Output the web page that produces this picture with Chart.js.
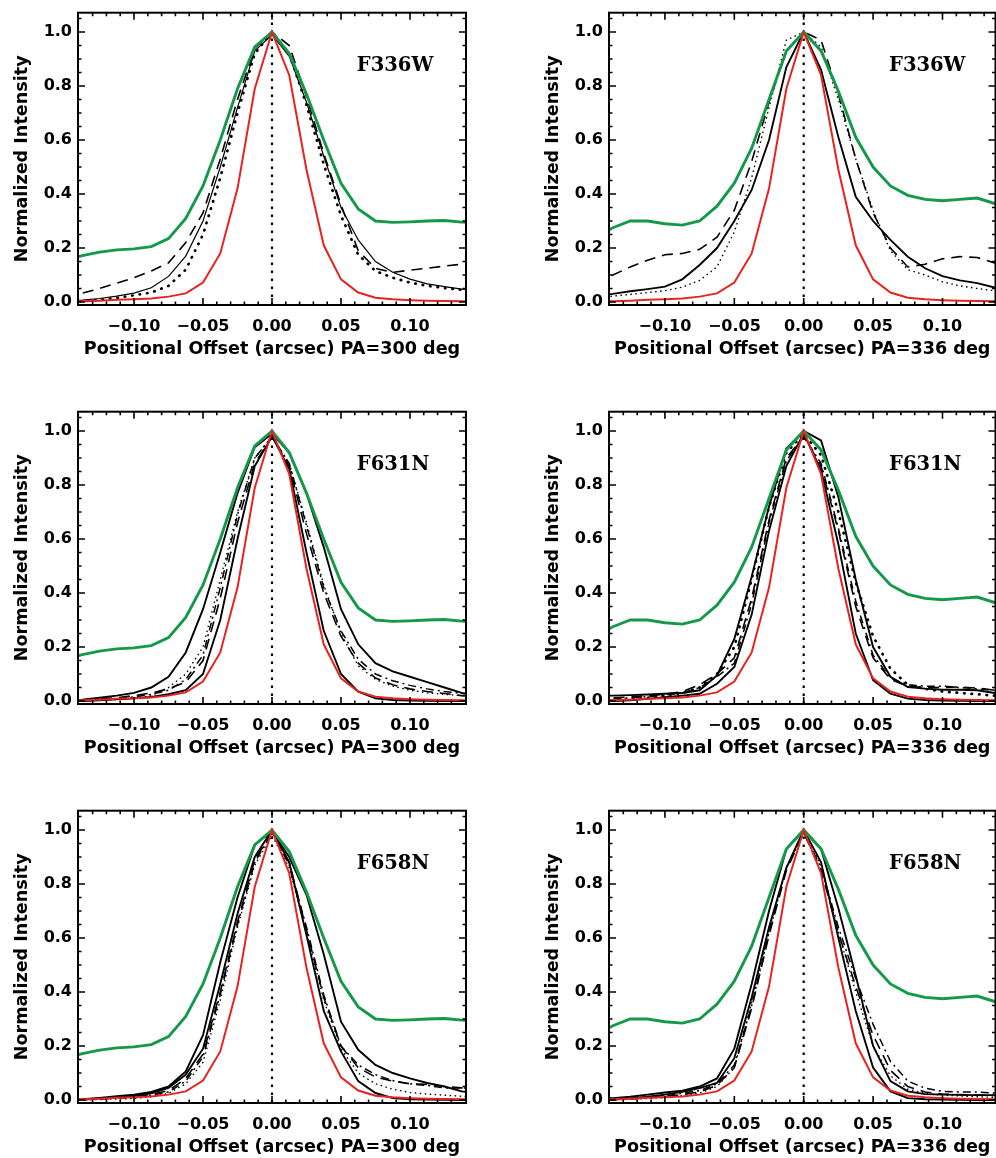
<!DOCTYPE html>
<html>
<head>
<meta charset="utf-8">
<script src="https://cdn.jsdelivr.net/npm/chart.js@4.4.1/dist/chart.umd.min.js"></script>
<style>
html, body { margin: 0; padding: 0; background: #fff; }
body { width: 996px; height: 1158px; overflow: hidden; position: relative; }
.panel { position: absolute; width: 480px; height: 360px; }
</style>
</head>
<body>
<div class="panel" style="left:0;top:0"><canvas id="p1"></canvas></div>
<div class="panel" style="left:531px;top:0"><canvas id="p2"></canvas></div>
<div class="panel" style="left:0;top:399px"><canvas id="p3"></canvas></div>
<div class="panel" style="left:531px;top:399px"><canvas id="p4"></canvas></div>
<div class="panel" style="left:0;top:798px"><canvas id="p5"></canvas></div>
<div class="panel" style="left:531px;top:798px"><canvas id="p6"></canvas></div>
<script>
// positional offsets of the profile samples (arcsec)
const offsets = [-0.15, -0.1375, -0.125, -0.1125, -0.1, -0.0875, -0.075, -0.0625, -0.05, -0.0375, -0.025, -0.0125, 0,
                 0.0125, 0.025, 0.0375, 0.05, 0.0625, 0.075, 0.0875, 0.1, 0.1125, 0.125, 0.1375, 0.15];

const xTickValues = [-0.10, -0.05, 0.00, 0.05, 0.10];
const xTickLabels = ['\u22120.10', '\u22120.05', '0.00', '0.05', '0.10'];
const yTickValues = [0.0, 0.2, 0.4, 0.6, 0.8, 1.0];
const yTickLabels = ['0.0', '0.2', '0.4', '0.6', '0.8', '1.0'];

// same in every panel of a column
const greenPa300 = [0.155, 0.172, 0.185, 0.193, 0.197, 0.205, 0.235, 0.31, 0.43, 0.60, 0.79, 0.945, 1.0, 0.92, 0.77, 0.60, 0.44, 0.345, 0.30, 0.295, 0.297, 0.30, 0.302, 0.296, 0.292];
const greenPa336 = [0.24, 0.275, 0.30, 0.30, 0.29, 0.285, 0.30, 0.355, 0.44, 0.57, 0.75, 0.93, 1.0, 0.93, 0.78, 0.61, 0.50, 0.43, 0.395, 0.38, 0.375, 0.38, 0.385, 0.365, 0.355];
const redPsf = [0.002, 0.003, 0.005, 0.008, 0.01, 0.013, 0.02, 0.032, 0.072, 0.18, 0.42, 0.79, 1.0, 0.84, 0.49, 0.21, 0.084, 0.035, 0.016, 0.01, 0.007, 0.005, 0.004, 0.003, 0.002];

// F336W
const f336w300Thin = [0.004, 0.007, 0.013, 0.022, 0.033, 0.053, 0.095, 0.17, 0.30, 0.50, 0.72, 0.93, 0.99, 0.91, 0.74, 0.54, 0.35, 0.23, 0.15, 0.11, 0.085, 0.067, 0.057, 0.048, 0.042];
const f336w300Dashed = [0.022, 0.033, 0.05, 0.07, 0.09, 0.115, 0.145, 0.22, 0.33, 0.53, 0.75, 0.94, 1.0, 0.95, 0.76, 0.55, 0.36, 0.19, 0.125, 0.11, 0.118, 0.125, 0.133, 0.14, 0.147];
const f336w300Dots = [0.0, 0.003, 0.008, 0.015, 0.025, 0.035, 0.06, 0.12, 0.25, 0.46, 0.70, 0.92, 1.0, 0.92, 0.73, 0.51, 0.32, 0.175, 0.115, 0.09, 0.072, 0.06, 0.052, 0.045, 0.04];
const f336w336Solid = [0.022, 0.03, 0.04, 0.048, 0.057, 0.084, 0.137, 0.20, 0.30, 0.415, 0.60, 0.87, 1.0, 0.86, 0.61, 0.39, 0.30, 0.23, 0.168, 0.125, 0.096, 0.08, 0.07, 0.054, 0.048];
const f336w336Dashed = [0.07, 0.10, 0.13, 0.155, 0.175, 0.18, 0.195, 0.24, 0.34, 0.52, 0.74, 0.93, 1.0, 0.97, 0.77, 0.53, 0.33, 0.2, 0.13, 0.14, 0.16, 0.168, 0.165, 0.145, 0.14];
const f336w336Dotted = [0.015, 0.022, 0.028, 0.035, 0.042, 0.055, 0.08, 0.13, 0.26, 0.46, 0.72, 0.97, 1.0, 0.945, 0.75, 0.53, 0.34, 0.19, 0.12, 0.1, 0.075, 0.06, 0.05, 0.042, 0.038];

// F631N
const f631n300Wide = [0.0, 0.005, 0.012, 0.02, 0.03, 0.05, 0.09, 0.18, 0.34, 0.55, 0.77, 0.94, 0.99, 0.92, 0.77, 0.57, 0.34, 0.21, 0.14, 0.11, 0.09, 0.07, 0.05, 0.03, 0.02];
const f631n300Narrow = [0.0, 0.0, 0.003, 0.006, 0.01, 0.015, 0.025, 0.04, 0.1, 0.3, 0.6, 0.87, 0.98, 0.86, 0.55, 0.26, 0.1, 0.035, 0.01, 0.004, 0.002, 0.001, 0.0, 0.0, 0.0];
const f631n300Dashed = [0.002, 0.004, 0.008, 0.012, 0.02, 0.03, 0.045, 0.07, 0.15, 0.38, 0.66, 0.88, 0.98, 0.87, 0.62, 0.40, 0.24, 0.14, 0.085, 0.06, 0.045, 0.035, 0.028, 0.02, 0.015];
const f631n300DashDot = [0.0, 0.002, 0.005, 0.01, 0.015, 0.025, 0.04, 0.08, 0.17, 0.42, 0.69, 0.90, 0.98, 0.88, 0.65, 0.42, 0.26, 0.155, 0.10, 0.075, 0.058, 0.045, 0.035, 0.028, 0.022];
const f631n300Dotted = [0.0, 0.001, 0.003, 0.006, 0.01, 0.02, 0.05, 0.10, 0.20, 0.45, 0.70, 0.90, 0.98, 0.88, 0.66, 0.43, 0.25, 0.13, 0.08, 0.055, 0.04, 0.03, 0.025, 0.02, 0.015];
const f631n336Wide = [0.02, 0.02, 0.022, 0.024, 0.027, 0.03, 0.04, 0.095, 0.23, 0.46, 0.72, 0.935, 1.0, 0.965, 0.755, 0.45, 0.2, 0.09, 0.052, 0.046, 0.042, 0.042, 0.04, 0.03, 0.028];
const f631n336Narrow = [0.0, 0.0, 0.003, 0.008, 0.014, 0.02, 0.027, 0.064, 0.126, 0.32, 0.63, 0.87, 0.99, 0.855, 0.58, 0.25, 0.077, 0.027, 0.009, 0.004, 0.002, 0.001, 0.0, 0.0, 0.0];
const f631n336Dashed = [0.01, 0.012, 0.015, 0.02, 0.025, 0.035, 0.06, 0.1, 0.16, 0.38, 0.67, 0.9, 0.98, 0.87, 0.63, 0.35, 0.16, 0.08, 0.055, 0.05, 0.05, 0.052, 0.048, 0.04, 0.035];
const f631n336DashDot = [0.005, 0.008, 0.012, 0.016, 0.022, 0.03, 0.05, 0.09, 0.14, 0.36, 0.66, 0.89, 0.98, 0.88, 0.64, 0.37, 0.17, 0.085, 0.06, 0.055, 0.055, 0.05, 0.045, 0.04, 0.04];
const f631n336Dotted = [0.0, 0.002, 0.006, 0.012, 0.02, 0.03, 0.05, 0.1, 0.2, 0.45, 0.72, 0.92, 0.99, 0.91, 0.70, 0.44, 0.24, 0.12, 0.06, 0.045, 0.035, 0.03, 0.025, 0.02, 0.02];

// F658N
const f658n300Wide = [0.0, 0.003, 0.008, 0.014, 0.02, 0.03, 0.05, 0.106, 0.24, 0.51, 0.75, 0.945, 0.995, 0.9, 0.76, 0.54, 0.29, 0.186, 0.13, 0.1, 0.08, 0.063, 0.05, 0.032, 0.025];
const f658n300Narrow = [0.0, 0.002, 0.006, 0.01, 0.016, 0.025, 0.045, 0.094, 0.19, 0.43, 0.69, 0.90, 1.0, 0.88, 0.61, 0.33, 0.18, 0.07, 0.026, 0.007, 0.003, 0.002, 0.001, 0.0, 0.0];
const f658n300Dashed = [0.0, 0.002, 0.005, 0.008, 0.012, 0.02, 0.035, 0.08, 0.17, 0.40, 0.66, 0.89, 0.99, 0.88, 0.63, 0.38, 0.2, 0.12, 0.085, 0.07, 0.06, 0.058, 0.05, 0.045, 0.042];
const f658n300DashDot = [0.0, 0.001, 0.004, 0.007, 0.01, 0.018, 0.03, 0.07, 0.16, 0.39, 0.65, 0.88, 0.99, 0.87, 0.64, 0.39, 0.2, 0.13, 0.094, 0.072, 0.06, 0.054, 0.045, 0.045, 0.045];
const f658n300Dotted = [0.0, 0.0, 0.002, 0.004, 0.006, 0.012, 0.025, 0.06, 0.14, 0.37, 0.64, 0.87, 0.98, 0.86, 0.62, 0.37, 0.19, 0.1, 0.06, 0.04, 0.028, 0.022, 0.018, 0.014, 0.01];
const f658n336Wide = [0.005, 0.007, 0.012, 0.02, 0.028, 0.035, 0.05, 0.08, 0.19, 0.43, 0.70, 0.93, 1.0, 0.93, 0.71, 0.46, 0.2, 0.07, 0.032, 0.022, 0.02, 0.019, 0.018, 0.018, 0.018];
const f658n336Narrow = [0.0, 0.002, 0.006, 0.012, 0.02, 0.03, 0.044, 0.063, 0.155, 0.38, 0.64, 0.86, 1.0, 0.88, 0.60, 0.33, 0.12, 0.032, 0.007, 0.003, 0.002, 0.001, 0.0, 0.0, 0.0];
const f658n336Dashed = [0.0, 0.002, 0.004, 0.008, 0.013, 0.02, 0.03, 0.055, 0.12, 0.34, 0.61, 0.85, 0.99, 0.85, 0.62, 0.42, 0.24, 0.11, 0.05, 0.03, 0.022, 0.02, 0.018, 0.017, 0.016];
const f658n336DashDot = [0.0, 0.002, 0.005, 0.01, 0.016, 0.025, 0.035, 0.06, 0.13, 0.35, 0.62, 0.86, 0.99, 0.86, 0.64, 0.45, 0.28, 0.143, 0.07, 0.044, 0.032, 0.03, 0.03, 0.026, 0.025];
const f658n336Dotted = [0.0, 0.001, 0.003, 0.006, 0.01, 0.016, 0.026, 0.05, 0.12, 0.36, 0.63, 0.86, 0.99, 0.87, 0.62, 0.40, 0.2, 0.09, 0.04, 0.025, 0.018, 0.015, 0.012, 0.01, 0.01];

const GREEN = '#14994a';
const RED = '#e8231f';

const lineStyles = {
    green:   {borderColor: GREEN, borderWidth: 2.9, borderDash: []},
    red:     {borderColor: RED, borderWidth: 2.0, borderDash: []},
    solid:   {borderColor: '#000', borderWidth: 1.9, borderDash: []},
    thin:    {borderColor: '#000', borderWidth: 1.2, borderDash: []},
    dashed:  {borderColor: '#000', borderWidth: 1.6, borderDash: [11, 7]},
    dashdot: {borderColor: '#000', borderWidth: 1.5, borderDash: [8, 4, 2, 4]},
    dots:    {borderColor: '#000', borderWidth: 2.7, borderDash: [0.5, 7], borderCapStyle: 'round'},
    dotted:  {borderColor: '#000', borderWidth: 1.4, borderDash: [1.5, 3.5]},
};

const panels = [
    {id: 'p1', filter: 'F336W', pa: '300', green: greenPa300,
     lines: [['thin', f336w300Thin], ['dashed', f336w300Dashed], ['dots', f336w300Dots]]},
    {id: 'p2', filter: 'F336W', pa: '336', green: greenPa336,
     lines: [['solid', f336w336Solid], ['dashed', f336w336Dashed], ['dotted', f336w336Dotted]]},
    {id: 'p3', filter: 'F631N', pa: '300', green: greenPa300,
     lines: [['solid', f631n300Wide], ['solid', f631n300Narrow], ['dashed', f631n300Dashed], ['dashdot', f631n300DashDot], ['dotted', f631n300Dotted]]},
    {id: 'p4', filter: 'F631N', pa: '336', green: greenPa336,
     lines: [['solid', f631n336Wide], ['solid', f631n336Narrow], ['dashed', f631n336Dashed], ['dashdot', f631n336DashDot], ['dots', f631n336Dotted]]},
    {id: 'p5', filter: 'F658N', pa: '300', green: greenPa300,
     lines: [['solid', f658n300Wide], ['solid', f658n300Narrow], ['dashed', f658n300Dashed], ['dashdot', f658n300DashDot], ['dotted', f658n300Dotted]]},
    {id: 'p6', filter: 'F658N', pa: '336', green: greenPa336,
     lines: [['solid', f658n336Wide], ['solid', f658n336Narrow], ['dashed', f658n336Dashed], ['dashdot', f658n336DashDot], ['dotted', f658n336Dotted]]},
];

// IDL-like frame: box, inward ticks on all four sides, dotted zero line, filter name
const idlFrame = {
    id: 'idlFrame',
    beforeDatasetsDraw(chart) {
        const {ctx, chartArea: a, scales: {x}} = chart;
        const x0 = x.getPixelForValue(0);
        ctx.save();
        ctx.strokeStyle = '#000';
        ctx.lineWidth = 2.2;
        ctx.setLineDash([2.5, 5.5]);
        ctx.beginPath();
        ctx.moveTo(x0, a.bottom);
        ctx.lineTo(x0, a.top);
        ctx.stroke();
        ctx.restore();
    },
    afterDatasetsDraw(chart, args, opts) {
        const {ctx, chartArea: a, scales: {x, y}} = chart;
        ctx.save();
        ctx.strokeStyle = '#000';
        ctx.lineWidth = 1.6;
        ctx.beginPath();
        for (let i = -15; i <= 15; i++) {
            const px = x.getPixelForValue(i / 100);
            if (px < a.left + 1 || px > a.right - 1) continue;
            const len = i % 5 === 0 ? 7 : 3.5;
            ctx.moveTo(px, a.bottom); ctx.lineTo(px, a.bottom - len);
            ctx.moveTo(px, a.top); ctx.lineTo(px, a.top + len);
        }
        for (let i = 0; i <= 21; i++) {
            const py = y.getPixelForValue(i * 0.05);
            if (py < a.top + 1 || py > a.bottom - 1) continue;
            const len = i % 4 === 0 ? 7 : 3.5;
            ctx.moveTo(a.left, py); ctx.lineTo(a.left + len, py);
            ctx.moveTo(a.right, py); ctx.lineTo(a.right - len, py);
        }
        ctx.stroke();
        ctx.lineWidth = 2;
        ctx.strokeRect(a.left, a.top, a.right - a.left, a.bottom - a.top);
        ctx.fillStyle = '#000';
        ctx.font = 'bold 19.5px "DejaVu Serif"';
        ctx.textAlign = 'left';
        ctx.textBaseline = 'middle';
        ctx.fillText(opts.text, x.getPixelForValue(opts.at.x), y.getPixelForValue(opts.at.y));
        ctx.restore();
    }
};

Chart.defaults.font.family = '"DejaVu Sans"';
Chart.defaults.font.weight = 'bold';
Chart.defaults.color = '#000';

panels.forEach((p, idx) => {
    const rightColumn = idx % 2 === 1;
    const datasets = [
        Object.assign({data: offsets.map((o, i) => ({x: o, y: redPsf[i]}))}, lineStyles.red),
        Object.assign({data: offsets.map((o, i) => ({x: o, y: p.green[i]}))}, lineStyles.green),
    ];
    p.lines.forEach(([style, values]) => {
        datasets.push(Object.assign({data: offsets.map((o, i) => ({x: o, y: values[i]}))}, lineStyles[style]));
    });
    datasets.forEach(d => { d.pointRadius = 0; d.tension = 0; d.fill = false; d.clip = 0; });

    new Chart(document.getElementById(p.id), {
        type: 'line',
        data: {datasets: datasets},
        options: {
            responsive: true,
            maintainAspectRatio: false,
            animation: false,
            layout: {padding: {top: 12.7, right: rightColumn ? 15.5 : 14, bottom: 0, left: 0}},
            plugins: {
                legend: {display: false},
                tooltip: {enabled: false},
                idlFrame: {text: p.filter, at: {x: 0.0615, y: 0.876}},
            },
            scales: {
                x: {
                    type: 'linear',
                    min: rightColumn ? -0.1403 : -0.1406,
                    max: rightColumn ? 0.1382 : 0.1406,
                    grid: {display: false, drawTicks: false},
                    border: {display: false},
                    afterBuildTicks: s => { s.ticks = xTickValues.map(v => ({value: v})); },
                    afterFit: s => { s.height = 55; s.paddingLeft = 0; s.paddingRight = 0; },
                    ticks: {
                        autoSkip: false, maxRotation: 0, minRotation: 0, padding: 12,
                        font: {size: 16, weight: 'bold'},
                        callback: (v, i) => xTickLabels[i],
                    },
                    title: {
                        display: true,
                        text: 'Positional Offset (arcsec) PA=' + p.pa + ' deg',
                        font: {size: 17.6, weight: 'bold'},
                        padding: {top: 0, bottom: 0},
                    },
                },
                y: {
                    type: 'linear',
                    min: -0.011,
                    max: 1.0715,
                    grid: {display: false, drawTicks: false},
                    border: {display: false},
                    afterBuildTicks: s => { s.ticks = yTickValues.map(v => ({value: v})); },
                    afterFit: s => { s.width = 78; s.paddingTop = 0; s.paddingBottom = 0; },
                    ticks: {
                        padding: 6,
                        font: {size: 16, weight: 'bold'},
                        callback: (v, i) => yTickLabels[i],
                    },
                    title: {
                        display: true,
                        text: 'Normalized Intensity',
                        font: {size: 17.6, weight: 'bold'},
                        padding: {top: 12, bottom: 0},
                    },
                },
            },
        },
        plugins: [idlFrame],
    });
});
</script>
</body>
</html>
